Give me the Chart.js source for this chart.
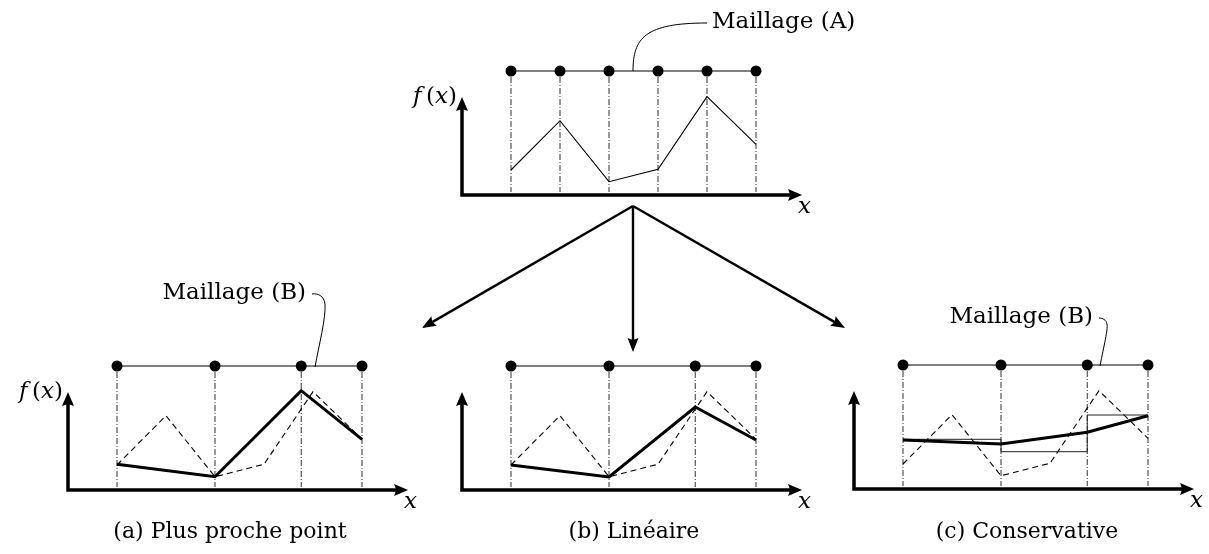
<!DOCTYPE html>
<html>
<head>
<meta charset="utf-8">
<script src="https://cdn.jsdelivr.net/npm/chart.js@4/dist/chart.umd.min.js"></script>
<style>
  html, body { margin: 0; padding: 0; background: #fff; }
  #wrap { width: 1209px; height: 554px; }
</style>
</head>
<body>
<div id="wrap"><canvas id="myChart" width="1209" height="554"></canvas></div>
<script>
// nodes of mesh A (index units) and the function sampled on it
const meshA = [0, 1, 2, 3, 4, 5]
const fA = [25, 74.3, 13.3, 25.7, 98.3, 50.7]
// nodes of mesh B, on the same x units as mesh A
const meshB = [0, 2, 3.76, 5]
// values of f transferred on mesh B, one array per method
const fNearest = [25.7, 13.3, 99.3, 50.7]
const fLinear = [25, 13, 83, 50]
const fConservative = [49, 45, 56.7, 73.3]
const cellMeans = [49.7, 37.3, 74]
const captions = ["(a) Plus proche point", "(b) Linéaire", "(c) Conservative"]
const meshNames = ["Maillage (A)", "Maillage (B)"]

// layout
const W = 1209, H = 554
const UNIT_X = 49
const MESH_LEVEL = 124
const AXIS_X0 = -1, AXIS_X1 = 5.94, AXIS_Y1 = 98
const panels = {
    A: {ox: 462, oy: 195},
    a: {ox: 68, oy: 490},
    b: {ox: 462, oy: 490},
    c: {ox: 854, oy: 489},
}
const FONT = '"DejaVu Serif"'

const scales = {}
for (const key in panels) {
    const p = panels[key]
    const xmin = AXIS_X0 - p.ox / UNIT_X
    scales["x" + key] = {type: "linear", display: false, min: xmin, max: xmin + W / UNIT_X}
    scales["y" + key] = {type: "linear", display: false, min: p.oy - H, max: p.oy}
}

const pts = (xs, ys) => xs.map((x, i) => ({x: x, y: ys[i]}))
function verticals(nodes) {
    let out = []
    nodes.forEach(n => { out.push({x: n, y: MESH_LEVEL - 6}, {x: n, y: 3}, {x: n, y: null}) })
    return out
}
function ds(panel, data, style) {
    return Object.assign({
        data: data, xAxisID: "x" + panel, yAxisID: "y" + panel, showLine: true,
        borderColor: "#000", borderWidth: 1, pointRadius: 0, tension: 0, fill: false, spanGaps: false
    }, style)
}
function meshDs(panel, nodes) {
    return ds(panel, nodes.map(n => ({x: n, y: MESH_LEVEL})), {
        pointRadius: 5.5, pointBackgroundColor: "#000", pointBorderWidth: 0, borderWidth: 1.2
    })
}

const datasets = []
// first in the list = drawn on top
for (const key in panels) {
    datasets.push(meshDs(key, key === "A" ? meshA : meshB))
}
datasets.push(ds("A", pts(meshA, fA), {borderWidth: 1.1}))
datasets.push(ds("a", pts(meshB, fNearest), {borderWidth: 3}))
datasets.push(ds("b", pts(meshB, fLinear), {borderWidth: 3}))
datasets.push(ds("c", pts(meshB, fConservative), {borderWidth: 3}))
datasets.push(ds("c", pts(meshB, cellMeans.concat(cellMeans[cellMeans.length - 1])), {stepped: true, borderColor: "#222"}))
for (const key of ["a", "b", "c"]) {
    datasets.push(ds(key, pts(meshA, fA), {borderDash: [6, 4], borderColor: "#000", borderWidth: 1.1}))
}
for (const key in panels) {
    datasets.push(ds(key, verticals(key === "A" ? meshA : meshB), {borderDash: [6, 2, 1, 2], borderColor: "#333"}))
}

function arrow(ctx, x1, y1, x2, y2, lw, head, half) {
    const a = Math.atan2(y2 - y1, x2 - x1)
    const c = Math.cos(a), s = Math.sin(a)
    ctx.lineWidth = lw
    ctx.beginPath()
    ctx.moveTo(x1, y1)
    ctx.lineTo(x2 - head * 0.7 * c, y2 - head * 0.7 * s)
    ctx.stroke()
    ctx.beginPath()
    ctx.moveTo(x2, y2)
    ctx.lineTo(x2 - head * c + half * s, y2 - head * s - half * c)
    ctx.lineTo(x2 - head * c * 0.85, y2 - head * s * 0.85)
    ctx.lineTo(x2 - head * c - half * s, y2 - head * s + half * c)
    ctx.closePath()
    ctx.fill()
}

function drawFx(ctx, right, baseline) {
    const parts = [["f", true], ["\u2009(", false], ["x", true], [")", false]]
    const fonts = it => (it ? "italic " : "") + "23px " + FONT
    let total = 0
    parts.forEach(p => { ctx.font = fonts(p[1]); total += ctx.measureText(p[0]).width })
    let x = right - total
    ctx.textAlign = "left"
    parts.forEach(p => {
        ctx.font = fonts(p[1])
        ctx.fillText(p[0], x, baseline)
        x += ctx.measureText(p[0]).width
    })
}

const diagram = {
    id: "diagram",
    afterDatasetsDraw(chart) {
        const ctx = chart.ctx
        ctx.save()
        ctx.fillStyle = "#000"
        ctx.strokeStyle = "#000"
        ctx.textBaseline = "alphabetic"
        for (const key in panels) {
            const xs = chart.scales["x" + key], ys = chart.scales["y" + key]
            const ox = xs.getPixelForValue(AXIS_X0), oy = ys.getPixelForValue(0)
            const xEnd = xs.getPixelForValue(AXIS_X1), yEnd = ys.getPixelForValue(AXIS_Y1)
            ctx.lineWidth = 3.5
            ctx.lineJoin = "miter"
            ctx.beginPath()
            ctx.moveTo(ox, yEnd + 10)
            ctx.lineTo(ox, oy)
            ctx.lineTo(xEnd - 10, oy)
            ctx.stroke()
            arrow(ctx, ox, yEnd + 10, ox, yEnd, 3.5, 14, 6)
            arrow(ctx, xEnd - 10, oy, xEnd, oy, 3.5, 14, 6)
            ctx.font = "italic 23px " + FONT
            ctx.textAlign = "left"
            ctx.fillText("x", ox + 336, oy + 18)
            if (key === "A" || key === "a") drawFx(ctx, ox - 5, oy - 92)
        }
        // arrows from (A) to the three results
        ctx.lineJoin = "round"
        const apex = [633, 206]
        arrow(ctx, apex[0], apex[1], 422, 328, 2.4, 14, 5.5)
        arrow(ctx, apex[0], apex[1], 633, 352, 2.4, 14, 5.5)
        arrow(ctx, apex[0], apex[1], 845, 328, 2.4, 14, 5.5)
        // leader curves
        ctx.lineWidth = 1
        ctx.beginPath()
        ctx.moveTo(633, 71)
        ctx.bezierCurveTo(633, 38, 645, 23, 707, 23)
        ctx.stroke()
        ctx.beginPath()
        ctx.moveTo(315, 367)
        ctx.bezierCurveTo(319, 345, 326, 318, 325, 304)
        ctx.bezierCurveTo(324, 296, 318, 293, 312, 294)
        ctx.stroke()
        ctx.beginPath()
        ctx.moveTo(1100, 366)
        ctx.bezierCurveTo(1104, 345, 1108, 330, 1107, 324)
        ctx.bezierCurveTo(1106, 320, 1103, 318, 1099, 318)
        ctx.stroke()
        // texts
        ctx.font = "23px " + FONT
        ctx.textAlign = "left"
        ctx.fillText(meshNames[0], 712, 28)
        ctx.textAlign = "right"
        ctx.fillText(meshNames[1], 306, 299)
        ctx.fillText(meshNames[1], 1093, 323)
        ctx.font = "22px " + FONT
        ctx.textAlign = "center"
        ctx.fillText(captions[0], 230, 538)
        ctx.fillText(captions[1], 634, 538)
        ctx.fillText(captions[2], 1027, 538)
        ctx.restore()
    }
}

new Chart(document.getElementById("myChart"), {
    type: "scatter",
    data: {datasets: datasets},
    options: {
        responsive: false,
        animation: false,
        devicePixelRatio: 1,
        layout: {padding: 0, autoPadding: false},
        scales: scales,
        plugins: {legend: {display: false}, tooltip: {enabled: false}},
        events: []
    },
    plugins: [diagram]
})
</script>
</body>
</html>
